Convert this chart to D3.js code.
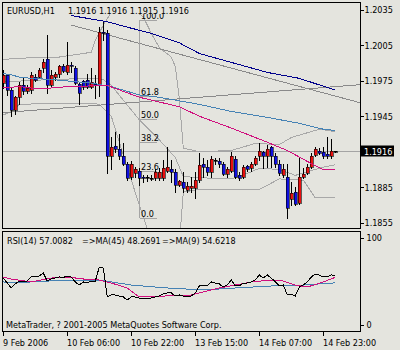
<!DOCTYPE html>
<html>
<head>
<meta charset="utf-8">
<script src="https://cdn.jsdelivr.net/npm/d3@7"></script>
<style>
  body { margin: 0; background: #e4e4de; }
  svg { display: block; font-family: "DejaVu Sans Condensed", "DejaVu Sans", sans-serif; font-size: 9px; }
  .ax path { display: none; }
  .ax line { stroke: #000; shape-rendering: crispEdges; }
  .ax text { fill: #000; }
</style>
</head>
<body>
<svg id="chart" width="400" height="350"></svg>
<script>
'use strict';

// EURUSD H1 candles, 9 Feb 2006 14:00 .. 15 Feb 02:00
const opens = [1.1973,1.1980,1.1967,1.1950,1.1961,1.1971,1.1966,1.1967,1.1978,1.1978,
  1.1986,1.1993,1.1971,1.1978,1.1981,1.1987,1.1982,1.1988,1.1986,1.1972,
  1.1975,1.1976,1.1970,1.1972,1.1971,1.2016,1.2015,1.1911,1.1920,1.1917,
  1.1911,1.1905,1.1894,1.1897,1.1899,1.1894,1.1894,1.1893,1.1893,1.1893,
  1.1893,1.1899,1.1900,1.1898,1.1887,1.1889,1.1883,1.1884,1.1884,1.1891,
  1.1905,1.1902,1.1898,1.1908,1.1907,1.1905,1.1896,1.1899,1.1909,1.1895,
  1.1894,1.1903,1.1901,1.1905,1.1911,1.1915,1.1911,1.1919,1.1911,1.1905,
  1.1895,1.1894,1.1875,1.1881,1.1872,1.1894,1.1897,1.1902,1.1912,1.1916,
  1.1915,1.1913,1.1911,1.1916];
const highs = [1.1984,1.1981,1.1969,1.1962,1.1974,1.1977,1.1971,1.1982,1.1981,1.1986,
  1.1993,1.2014,1.1984,1.1982,1.1988,1.1989,1.2008,1.1991,1.1987,1.1974,
  1.1976,1.1981,1.1986,1.1980,1.2020,1.2025,1.2018,1.1927,1.1932,1.1930,
  1.1922,1.1906,1.1907,1.1902,1.1901,1.1895,1.1895,1.1895,1.1900,1.1901,
  1.1908,1.1919,1.1908,1.1900,1.1891,1.1898,1.1889,1.1894,1.1898,1.1914,
  1.1910,1.1908,1.1911,1.1910,1.1910,1.1906,1.1902,1.1915,1.1911,1.1898,
  1.1904,1.1904,1.1906,1.1911,1.1922,1.1916,1.1921,1.1920,1.1914,1.1908,
  1.1905,1.1905,1.1889,1.1885,1.1910,1.1901,1.1905,1.1914,1.1919,1.1918,
  1.1919,1.1927,1.1926,1.1916];
const lows = [1.1969,1.1963,1.1945,1.1947,1.1955,1.1964,1.1965,1.1965,1.1975,1.1977,
  1.1982,1.1965,1.1970,1.1976,1.1978,1.1982,1.1981,1.1982,1.1972,1.1955,
  1.1968,1.1969,1.1969,1.1960,1.1962,1.2009,1.1897,1.1900,1.1915,1.1909,
  1.1904,1.1891,1.1892,1.1894,1.1887,1.1889,1.1890,1.1891,1.1891,1.1891,
  1.1891,1.1898,1.1889,1.1881,1.1886,1.1881,1.1881,1.1881,1.1876,1.1889,
  1.1894,1.1895,1.1894,1.1905,1.1902,1.1895,1.1894,1.1898,1.1893,1.1891,
  1.1893,1.1899,1.1899,1.1904,1.1908,1.1901,1.1902,1.1902,1.1902,1.1895,
  1.1894,1.1859,1.1870,1.1870,1.1871,1.1893,1.1896,1.1901,1.1911,1.1913,
  1.1910,1.1910,1.1910,1.1915];
const closes = [1.1980,1.1967,1.1950,1.1961,1.1971,1.1966,1.1969,1.1980,1.1976,1.1984,
  1.1991,1.1971,1.1980,1.1981,1.1987,1.1983,1.1988,1.1987,1.1973,1.1965,
  1.1970,1.1970,1.1974,1.1971,1.2016,1.2015,1.1911,1.1919,1.1917,1.1911,
  1.1905,1.1893,1.1905,1.1900,1.1893,1.1893,1.1894,1.1893,1.1898,1.1898,
  1.1901,1.1902,1.1898,1.1887,1.1890,1.1884,1.1886,1.1886,1.1891,1.1904,
  1.1902,1.1898,1.1909,1.1908,1.1905,1.1896,1.1900,1.1911,1.1894,1.1893,
  1.1902,1.1900,1.1905,1.1910,1.1916,1.1911,1.1917,1.1911,1.1905,1.1897,
  1.1900,1.1867,1.1880,1.1871,1.1894,1.1896,1.1902,1.1911,1.1917,1.1914,
  1.1911,1.1911,1.1916,1.1916];

// moving averages on price, read at sample bars
const maSlowAt  = [17, 24, 27, 29, 37, 44, 49, 66, 74, 83];
const maSlowVal = [1.2030, 1.2026, 1.2024, 1.2022, 1.2015, 1.2007, 1.1998, 1.1982, 1.1977, 1.1967];
const maMidAt   = [0, 2, 4, 7, 12, 22, 27, 34, 39, 49, 57, 66, 74, 80, 83];
const maMidVal  = [1.1981, 1.1980, 1.1978, 1.1977, 1.1976, 1.1973, 1.1970, 1.1963, 1.1961, 1.1955, 1.1949, 1.1944, 1.1939, 1.1934, 1.1933];
const maFastAt  = [0, 4, 9, 16, 26, 34, 44, 49, 57, 66, 71, 77, 80, 83];
const maFastVal = [1.1969, 1.1970, 1.1968, 1.1970, 1.1971, 1.1961, 1.1953, 1.1945, 1.1935, 1.1923, 1.1916, 1.1905, 1.1900, 1.1900];

// bollinger bands
const bbUpAt   = [0, 4, 14, 22, 23, 25, 27, 29, 32, 35, 37, 39, 42, 43, 44, 45, 49, 57, 63, 69, 72, 75, 79, 83];
const bbUpVal  = [1.1993, 1.1994, 1.1995, 1.1999, 1.2009, 1.2022, 1.2033, 1.2038, 1.2036, 1.2029, 1.2015, 1.2003, 1.1995, 1.1987, 1.1960, 1.1918, 1.1915, 1.1916, 1.1922, 1.1921, 1.1927, 1.1930, 1.1934, 1.1932];
const bbMidAt  = [0, 12, 22, 25, 27, 34, 39, 43, 45, 49, 57, 62, 64, 69, 73, 75, 80, 83];
const bbMidVal = [1.1974, 1.1976, 1.1977, 1.1976, 1.1971, 1.1942, 1.1925, 1.1910, 1.1894, 1.1893, 1.1892, 1.1898, 1.1901, 1.1900, 1.1895, 1.1897, 1.1902, 1.1904];
const bbLoAt   = [0, 2, 4, 14, 22, 24, 27, 30, 34, 37, 42, 44, 45, 49, 64, 69, 75, 78, 83];
const bbLoVal  = [1.1946, 1.1949, 1.1955, 1.1956, 1.1956, 1.1955, 1.1945, 1.1912, 1.1870, 1.1840, 1.1828, 1.1836, 1.1881, 1.1883, 1.1883, 1.1892, 1.1891, 1.1876, 1.1876];

// trend lines (rays)
const trendDownAt  = [17, 83];
const trendDownVal = [1.2022, 1.1962];
const trendUpAt    = [0, 83];
const trendUpVal   = [1.1948, 1.1970];

// fibonacci retracement
const fibBar = 34;
const fibEndBar = 38.5;
const fibHigh = 1.2026;
const fibLow = 1.1859;
const fibLevels = [0, 23.6, 38.2, 50, 61.8, 100];

// RSI(14) and its averages
const rsi = [53.8,48.1,42.4,47.0,50.4,49.3,50.4,55.0,55.0,56.1,
  59.6,50.4,52.7,53.8,55.0,54.5,56.1,55.0,49.3,45.8,
  49.3,48.1,50.4,50.4,66.4,65.2,32.1,34.4,34.4,33.2,
  32.1,28.6,32.1,32.1,30.9,30.9,30.9,30.9,32.1,33.2,
  35.5,36.7,36.7,33.2,34.4,33.2,33.2,33.2,36.7,44.7,
  45.8,44.7,49.3,48.1,47.0,43.5,45.8,51.5,44.7,44.7,
  48.1,48.1,49.3,51.5,57.3,53.8,57.3,53.8,49.3,44.7,
  45.8,34.4,35.5,33.2,43.5,45.8,49.3,55.0,58.4,57.3,
  55.0,55.0,57.3,57.0082];
const rsiSlowAt  = [0, 2, 7, 16, 24, 27, 32, 41, 50, 58, 67, 75, 83];
const rsiSlowVal = [49.3, 48.1, 49.3, 51.5, 51.5, 49.3, 45.8, 42.4, 40.1, 42.4, 44.7, 45.8, 48.2691];
const rsiFastAt  = [0, 2, 7, 12, 16, 20, 24, 27, 31, 34, 37, 44, 46, 50, 54, 58, 62, 67, 70, 73, 76, 80, 83];
const rsiFastVal = [55.0, 52.7, 49.3, 53.8, 55.0, 52.7, 51.5, 48.1, 42.4, 32.1, 32.1, 34.4, 33.2, 37.8, 42.4, 45.8, 49.3, 51.5, 50.4, 45.8, 43.5, 49.3, 54.6218];

const priceTicks = [1.2035, 1.2005, 1.1975, 1.1945, 1.1885, 1.1855];
const rsiTicks = [0, 100];
const dateBars = [0, 16, 32, 48, 64, 80];
const dateLabels = ['9 Feb 2006', '10 Feb 06:00', '10 Feb 22:00', '13 Feb 15:00', '14 Feb 07:00', '14 Feb 23:00'];
const symbol = 'EURUSD,H1';

const svg = d3.select('#chart');
const n = closes.length;
const f4 = d3.format('.4f');

const left = 2.5, right = 360.5, mainTop = 2.5, mainBottom = 228.5, rsiTop = 231.5, rsiBottom = 331.5;

let x = d3.scaleLinear().domain([0, n - 1]).range([3.3, 335.3]),
    y = d3.scaleLinear().domain([1.1855, 1.2035]).range([222.7, 9.7]),
    yR = d3.scaleLinear().domain([0, 100]).range([325, 237.7]);

const px = i => Math.round(x(i));

let defs = svg.append('defs');
defs.append('clipPath').attr('id', 'clipMain').append('rect')
    .attr('x', left + 0.5).attr('y', mainTop + 0.5)
    .attr('width', right - left - 1).attr('height', mainBottom - mainTop - 1);
defs.append('clipPath').attr('id', 'clipRsi').append('rect')
    .attr('x', left + 0.5).attr('y', rsiTop + 0.5)
    .attr('width', right - left - 1).attr('height', rsiBottom - rsiTop - 1);

let main = svg.append('g').attr('clip-path', 'url(#clipMain)').style('shape-rendering', 'crispEdges');

let priceLine = d3.line().x(d => x(d[0])).y(d => y(d[1]));

function drawPath(g, pts, lineGen, color) {
    g.append('path')
        .datum(pts)
        .attr('d', lineGen)
        .attr('fill', 'none')
        .attr('stroke', color)
        .attr('stroke-width', 1);
}

// horizontal line at last price
main.append('line')
    .attr('x1', left).attr('x2', right)
    .attr('y1', Math.round(y(closes[n - 1])) + 0.5).attr('y2', Math.round(y(closes[n - 1])) + 0.5)
    .attr('stroke', '#a4a4a4');

// bollinger bands
drawPath(main, d3.zip(bbUpAt, bbUpVal), priceLine, '#a8a8a8');
drawPath(main, d3.zip(bbMidAt, bbMidVal), priceLine, '#a8a8a8');
drawPath(main, d3.zip(bbLoAt, bbLoVal), priceLine, '#a8a8a8');

// trend lines, extended to the panel edge
function ray(at, val, extendLeft) {
    let slope = (val[1] - val[0]) / (at[1] - at[0]);
    let b0 = extendLeft ? x.invert(left) : at[0];
    let b1 = x.invert(right);
    return [[b0, val[0] + slope * (b0 - at[0])], [b1, val[0] + slope * (b1 - at[0])]];
}
drawPath(main, ray(trendDownAt, trendDownVal, false), priceLine, '#8a8a8a');
drawPath(main, ray(trendUpAt, trendUpVal, true), priceLine, '#8a8a8a');

// fibonacci
let fx = px(fibBar) + 0.5, fx2 = px(fibEndBar);
main.append('line')
    .attr('x1', fx).attr('x2', fx)
    .attr('y1', y(fibHigh)).attr('y2', y(fibLow))
    .attr('stroke', '#a4a4a4');
fibLevels.forEach(function(lv) {
    let ly = Math.round(y(fibLow + (fibHigh - fibLow) * lv / 100)) + 0.5;
    main.append('line')
        .attr('x1', fx).attr('x2', fx2)
        .attr('y1', ly).attr('y2', ly)
        .attr('stroke', '#a4a4a4');
    main.append('text')
        .attr('x', fx + 1.5).attr('y', ly - 1.5)
        .attr('fill', '#000')
        .text(d3.format('.1f')(lv));
});

// candles
let idx = d3.range(n);
main.selectAll('line.wick')
    .data(idx)
    .join('line')
    .attr('class', 'wick')
    .attr('x1', i => px(i) + 0.5).attr('x2', i => px(i) + 0.5)
    .attr('y1', i => Math.round(y(highs[i]))).attr('y2', i => Math.round(y(lows[i])) + 1)
    .attr('stroke', '#000');

main.selectAll('rect.body')
    .data(idx)
    .join('rect')
    .attr('class', 'body')
    .attr('x', i => px(i) - 1)
    .attr('width', 3)
    .attr('y', i => Math.round(y(Math.max(opens[i], closes[i]))))
    .attr('height', i => Math.max(1, Math.round(y(Math.min(opens[i], closes[i]))) - Math.round(y(Math.max(opens[i], closes[i])))))
    .attr('fill', i => closes[i] > opens[i] ? '#e81010' : closes[i] < opens[i] ? '#1010e0' : '#000')
    .attr('stroke', '#000')
    .attr('stroke-width', 0.6);

// moving averages
drawPath(main, d3.zip(maSlowAt, maSlowVal), priceLine, '#00008c');
drawPath(main, d3.zip(maMidAt, maMidVal), priceLine, '#4682b4');
drawPath(main, d3.zip(maFastAt, maFastVal), priceLine, '#d0107e');

// header label sits on its own background, as in the terminal
let lastOHLC = [opens[n - 1], highs[n - 1], lows[n - 1], closes[n - 1]].map(f4).join(' ');
svg.append('rect')
    .attr('x', 3).attr('y', 3).attr('width', 186).attr('height', 11)
    .attr('fill', '#e4e4de');
svg.append('text').attr('x', 7).attr('y', 13.5).text(symbol);
svg.append('text').attr('x', 68).attr('y', 13.5).text(lastOHLC);

// RSI panel
let sub = svg.append('g').attr('clip-path', 'url(#clipRsi)').style('shape-rendering', 'crispEdges');
let rsiLine = d3.line().x(d => x(d[0])).y(d => yR(d[1]));
drawPath(sub, d3.zip(rsiSlowAt, rsiSlowVal), rsiLine, '#4682b4');
drawPath(sub, d3.zip(rsiFastAt, rsiFastVal), rsiLine, '#d0107e');
drawPath(sub, rsi.map((v, i) => [i, v]), rsiLine, '#000');

// frames
[[mainTop, mainBottom], [rsiTop, rsiBottom]].forEach(function(p) {
    svg.append('rect')
        .attr('x', left).attr('y', p[0])
        .attr('width', right - left).attr('height', p[1] - p[0])
        .attr('fill', 'none').attr('stroke', '#000')
        .style('shape-rendering', 'crispEdges');
});

// price axis
svg.append('g')
    .attr('class', 'ax')
    .attr('transform', 'translate(' + right + ',0)')
    .call(d3.axisRight(y).tickValues(priceTicks).tickSize(3).tickPadding(1).tickFormat(f4))
    .attr('font-size', null).attr('font-family', null);

// last price marker
let ly = y(closes[n - 1]);
svg.append('rect')
    .attr('x', right - 0.5).attr('y', Math.round(ly) - 5.5)
    .attr('width', 34).attr('height', 11)
    .attr('fill', '#000');
svg.append('text')
    .attr('x', right + 3.5).attr('y', Math.round(ly) + 3.5)
    .attr('fill', '#fff')
    .text(f4(closes[n - 1]));

// rsi axis
svg.append('g')
    .attr('class', 'ax')
    .attr('transform', 'translate(' + right + ',0)')
    .call(d3.axisRight(yR).tickValues(rsiTicks).tickSize(3).tickPadding(3).tickFormat(d3.format('d')))
    .attr('font-size', null).attr('font-family', null);

// time axis
let xAxis = svg.append('g')
    .attr('class', 'ax')
    .attr('transform', 'translate(0,' + rsiBottom + ')')
    .call(d3.axisBottom(x).tickValues(dateBars).tickSize(4).tickPadding(4).tickFormat((d, i) => dateLabels[i]))
    .attr('font-size', null).attr('font-family', null);
xAxis.selectAll('.tick').attr('transform', d => 'translate(' + (px(d) + 0.5) + ',0)');
xAxis.selectAll('text').attr('text-anchor', 'start').attr('x', -0.5).attr('dy', '0.71em');

// labels
svg.append('text').attr('x', 7).attr('y', 244).text('RSI(14) ' + f4(rsi[n - 1]));
svg.append('text').attr('x', 82).attr('y', 244).text('=>MA(45) ' + f4(rsiSlowVal[rsiSlowVal.length - 1]));
svg.append('text').attr('x', 162).attr('y', 244).text('=>MA(9) ' + f4(rsiFastVal[rsiFastVal.length - 1]));

svg.append('text').attr('x', 6).attr('y', 328).text('MetaTrader, ? 2001-2005 MetaQuotes Software Corp.');
</script>
</body>
</html>
